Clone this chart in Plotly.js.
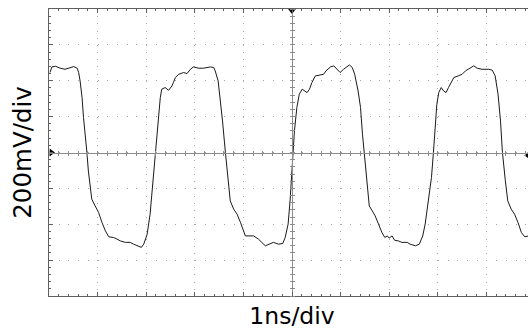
<!DOCTYPE html>
<html>
<head>
<meta charset="utf-8">
<script src="https://cdn.plot.ly/plotly-3.0.1.min.js"></script>
<style>
html,body{margin:0;padding:0;overflow:hidden;background:#fff;}
#chart{width:536px;height:332px;}
</style>
</head>
<body>
<div id="chart"></div>
<script>
// Waveform: time in ns (1 ns/div, centre = 0), voltage in mV (200 mV/div)
const timeNs = [
 -4.98,-4.94,-4.87,-4.77,-4.67,-4.60,-4.49,-4.42,-4.39,-4.36,-4.32,-4.29,-4.25,-4.22,-4.19,-4.15,-4.12,-4.05,-3.98,-3.91,-3.84,-3.77,-3.67,-3.60,-3.53,-3.43,-3.33,-3.26,-3.19,-3.10,-3.05,-2.98,-2.92,-2.87,-2.81,-2.76,-2.71,-2.68,-2.61,-2.54,-2.47,-2.44,-2.40,-2.33,-2.23,-2.16,-2.09,-2.03,-1.92,-1.82,-1.72,
 -1.68,-1.61,-1.58,-1.52,-1.48,-1.43,-1.37,-1.32,-1.27,-1.20,-1.13,-1.06,-1.00,-0.96,-0.79,-0.69,-0.55,-0.45,-0.38,-0.28,-0.19,-0.14,-0.08,-0.04,0.01,0.05,0.10,0.15,0.21,0.26,0.31,0.36,0.41,0.48,0.58,0.65,0.70,0.79,0.86,0.93,0.99,1.06,1.13,1.18,1.24,1.29,1.36,1.41,1.45,1.49,1.54,1.59,
 1.65,1.71,1.78,1.85,1.91,1.96,2.00,2.06,2.11,2.19,2.26,2.37,2.43,2.54,2.62,2.69,2.74,2.81,2.87,2.91,2.95,2.98,3.02,3.07,3.12,3.17,3.22,3.28,3.33,3.42,3.50,3.57,3.67,3.74,3.81,3.91,4.05,4.12,4.18,4.24,4.29,4.33,4.39,4.44,4.51,4.58,4.65,4.72,4.79,4.87,5.00
];
const voltageMv = [
 446,477,481,470,464,470,479,470,446,399,306,195,93,0,-103,-195,-260,-298,-334,-390,-437,-470,-474,-483,-493,-501,-501,-511,-520,-529,-511,-455,-344,-195,-10,176,306,353,362,347,371,390,418,436,446,440,464,477,470,470,477,
 477,474,455,399,306,176,0,-158,-270,-316,-344,-390,-437,-465,-465,-483,-520,-511,-501,-511,-507,-474,-399,-270,-65,120,251,325,353,343,334,353,390,427,432,436,455,477,483,464,446,464,477,488,474,436,343,251,102,-10,-158,-298,
 -325,-353,-399,-446,-474,-465,-477,-465,-489,-493,-501,-501,-511,-520,-511,-465,-399,-270,-139,0,139,269,334,362,343,334,362,390,418,427,436,455,474,483,470,464,464,459,427,325,176,0,-158,-270,-316,-344,-390,-446,-470,-465,-471
];
// Graticule markers: trigger position (top), channel ground (left), trigger level (right)
const markerTimeNs = [0, -4.95, 4.85];
const markerMv = [792, 0, -15];
const markerSymbols = ['triangle-down', 'triangle-right', 'triangle-left'];

const xRange = [-5, 5];
const yRange = [-800, 800];

const frameColor = '#606060';
const centerColor = '#8c8c8c';
const gridColor = '#a8a8a8';

const traces = [
  {x: timeNs, y: voltageMv, type: 'scatter', mode: 'lines',
   line: {color: '#1a1a1a', width: 1}, hoverinfo: 'skip', showlegend: false},
  {x: markerTimeNs, y: markerMv, type: 'scatter', mode: 'markers', cliponaxis: false,
   marker: {symbol: markerSymbols, size: 7, color: '#000'}, showlegend: false, hoverinfo: 'skip'},
  {x: [], y: [], xaxis: 'x2', yaxis: 'y2', showlegend: false},
  {x: [], y: [], xaxis: 'x3', yaxis: 'y3', showlegend: false}
];

function centreAxis(range, dtick, side, dir) {
  return {
    range: range, overlaying: dir === 'x' ? 'x' : 'y', anchor: 'free', position: 0.5, side: side,
    showline: true, linecolor: centerColor, linewidth: 1,
    ticks: 'outside', ticklen: 2, tickcolor: centerColor, tickwidth: 1, dtick: dtick,
    minor: {dtick: dtick / 5, ticks: 'outside', ticklen: 2, tickcolor: centerColor, tickwidth: 1, showgrid: false},
    showticklabels: false, showgrid: false, zeroline: false, fixedrange: true
  };
}

const layout = {
  width: 536, height: 332,
  margin: {l: 49, r: 1, t: 9, b: 36},
  paper_bgcolor: '#fff', plot_bgcolor: '#fff',
  showlegend: false,
  font: {family: 'DejaVu Sans', color: '#000'},
  xaxis: {
    range: xRange, dtick: 1, showticklabels: false,
    showgrid: true, gridcolor: gridColor, gridwidth: 1, griddash: '1px,6.175px',
    zeroline: false, showline: true, linecolor: frameColor, linewidth: 1, mirror: 'ticks',
    ticks: 'inside', ticklen: 4, tickcolor: frameColor, tickwidth: 1,
    minor: {dtick: 0.2, ticks: 'inside', ticklen: 2, tickcolor: frameColor, tickwidth: 1, showgrid: false},
    title: {text: '1ns/div', font: {size: 23.5, family: 'DejaVu Sans', color: '#000'}, standoff: 11},
    fixedrange: true
  },
  yaxis: {
    range: yRange, dtick: 200, showticklabels: false,
    showgrid: true, gridcolor: gridColor, gridwidth: 1, griddash: '1px,8.72px',
    zeroline: false, showline: true, linecolor: frameColor, linewidth: 1, mirror: 'ticks',
    ticks: 'inside', ticklen: 4, tickcolor: frameColor, tickwidth: 1,
    minor: {dtick: 40, ticks: 'inside', ticklen: 2, tickcolor: frameColor, tickwidth: 1, showgrid: false},
    title: {text: '200mV/div', font: {size: 24.5, family: 'DejaVu Sans', color: '#000'}, standoff: 9},
    fixedrange: true
  },
  xaxis2: centreAxis(xRange, 1, 'bottom', 'x'),
  xaxis3: centreAxis(xRange, 1, 'top', 'x'),
  yaxis2: centreAxis(yRange, 200, 'left', 'y'),
  yaxis3: centreAxis(yRange, 200, 'right', 'y')
};

Plotly.newPlot('chart', traces, layout, {staticPlot: true, displayModeBar: false});
</script>
</body>
</html>
